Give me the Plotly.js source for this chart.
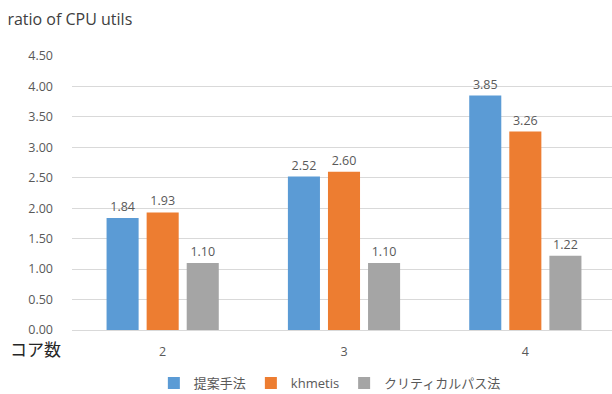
<!DOCTYPE html>
<html><head><meta charset="utf-8">
<script src="https://cdn.plot.ly/plotly-3.0.1.min.js"></script>
<style>html,body{margin:0;padding:0;background:#fff;overflow:hidden}</style>
</head><body>
<div id="chart" style="width:616px;height:394px"></div>
<script>
const categories = ["2", "3", "4"];
const seriesNames = ["提案手法", "khmetis", "クリティカルパス法"];
const proposed = [1.84, 2.52, 3.85];
const khmetis = [1.93, 2.60, 3.26];
const critical = [1.10, 1.10, 1.22];
const yTicks = [0, 0.5, 1, 1.5, 2, 2.5, 3, 3.5, 4, 4.5];
const colors = ["#5B9BD5", "#ED7D31", "#A5A5A5"];
const allSeries = [proposed, khmetis, critical];

const font = "'Open Sans', 'Noto Sans CJK JP', sans-serif";
const traces = allSeries.map((vals, i) => ({
  type: "bar",
  name: seriesNames[i],
  x: categories,
  y: vals,
  marker: {color: colors[i]},
  text: vals.map(v => v.toFixed(2)),
  textposition: "outside",
  cliponaxis: false,
  textfont: {size: 12.5, color: "#595959", family: font},
  hoverinfo: "none"
}));

const layout = {
  width: 616, height: 394,
  margin: {l: 72, r: 0, t: 56, b: 64},
  paper_bgcolor: "#fff", plot_bgcolor: "#fff",
  font: {family: font, color: "#595959", size: 12},
  title: {text: "ratio of CPU utils", x: 0.012, xanchor: "left", y: 0.95, yanchor: "middle",
          font: {size: 16, color: "#404040", family: font}, automargin: false},
  barmode: "group",
  bargap: 0.337,
  bargroupgap: 0.2,
  xaxis: {type: "category", showgrid: false, showline: true, linecolor: "#D9D9D9", linewidth: 1, automargin: false,
          ticks: "", ticklabelstandoff: 10, tickfont: {size: 12.5, color: "#595959"}, fixedrange: true},
  yaxis: {range: [0, 4.5], tickvals: yTicks, ticktext: yTicks.map(v => v.toFixed(2)), automargin: false,
          showgrid: true, gridcolor: "#D9D9D9", gridwidth: 1, zeroline: false, showline: false,
          ticks: "", ticklabelstandoff: 18, tickfont: {size: 12.5, color: "#595959"}, fixedrange: true},
  showlegend: true,
  legend: {orientation: "h", xref: "paper", x: 0.474, xanchor: "center", yref: "container", y: 0.066, yanchor: "top",
           font: {size: 13, color: "#595959", family: font}, itemwidth: 30, traceorder: "normal"},
  annotations: [{text: "コア数", xref: "paper", yref: "paper", x: -0.118, y: -0.022, xanchor: "left", yanchor: "top",
                 showarrow: false, font: {size: 17, color: "#262626", family: font}}]
};
Plotly.newPlot("chart", traces, layout, {displayModeBar: false, staticPlot: true});
</script>
</body></html>
